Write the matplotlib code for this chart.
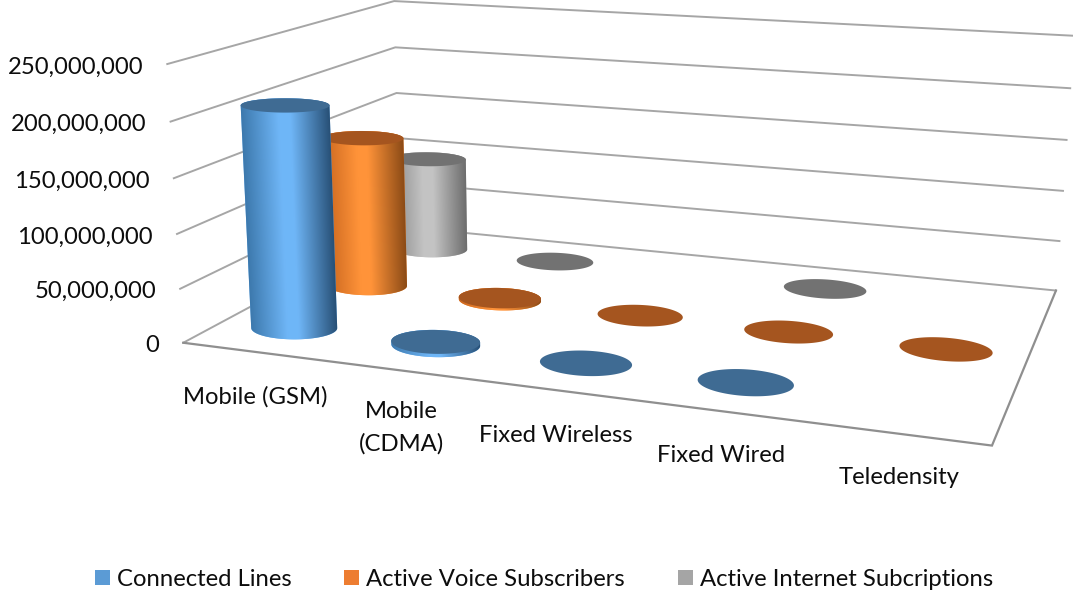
# -*- coding: utf-8 -*-
"""Excel-style 3D cylinder chart, subscribers by network type."""

import numpy as np
import matplotlib

matplotlib.use("Agg")
import matplotlib.pyplot as plt
from matplotlib.patches import Polygon, Rectangle

categories = ["Mobile (GSM)", "Mobile\n(CDMA)", "Fixed Wireless", "Fixed Wired", "Teledensity"]
series_names = ["Connected Lines", "Active Voice Subscribers", "Active Internet Subcriptions"]
connected_lines = [206e6, 3e6, 0, 0, np.nan]
active_voice = [148e6, 2e6, 0, 0, 0]
active_internet = [97e6, 0, np.nan, 0, np.nan]
y_ticks = [0, 50e6, 100e6, 150e6, 200e6, 250e6]

plt.rcParams["font.family"] = ["Lato", "DejaVu Sans"]
TEXT = "#0d0d0d"
FONT = 17.2

# (edge left, highlight, edge right, top face)
SHADES = [
    ("#3d79ad", "#6fb6f7", "#274f75", "#3f6b93"),
    ("#c9661f", "#ff9339", "#8a4a16", "#a5551f"),
    ("#8a8a8a", "#c4c4c4", "#6c6c6c", "#727272"),
]
LEGEND_COLORS = ["#5b9bd5", "#ed7d31", "#a5a5a5"]

# frame corners: (category, series, value in 50M) -> pixel, used to fit the camera
CALIB = [
    (0, 0, 0, 185, 342), (0, 0, 1, 181, 289), (0, 0, 2, 177, 234),
    (0, 0, 3, 173, 178), (0, 0, 4, 170, 122), (0, 0, 5, 166, 64),
    (0, 3, 0, 397, 227), (0, 3, 1, 398, 183), (0, 3, 2, 398, 138),
    (0, 3, 3, 398, 93), (0, 3, 4, 397, 47), (0, 3, 5, 394, 1),
    (5, 3, 0, 1056, 290), (5, 3, 1, 1060, 241), (5, 3, 2, 1063, 191),
    (5, 3, 3, 1067, 140), (5, 3, 4, 1070, 88), (5, 3, 5, 1073, 36),
    (5, 0, 0, 992, 446),
]


def fit_camera(points):
    rows, rhs = [], []
    for x, y, z, u, v in points:
        rows.append([x, y, z, 1, 0, 0, 0, 0, -u * x, -u * y, -u * z])
        rhs.append(u)
        rows.append([0, 0, 0, 0, x, y, z, 1, -v * x, -v * y, -v * z])
        rhs.append(v)
    sol = np.linalg.lstsq(np.array(rows, float), np.array(rhs, float), rcond=None)[0]
    return np.append(sol, 1.0).reshape(3, 4)


CAM = fit_camera(CALIB)


def project(x, y, value):
    x, y = np.broadcast_arrays(np.asarray(x, float), np.asarray(y, float))
    pts = np.stack([x, y, np.full(x.shape, value / 50e6), np.ones(x.shape)])
    q = CAM @ pts.reshape(4, -1)
    return (q[0] / q[2]).reshape(x.shape), (q[1] / q[2]).reshape(x.shape)


def hull(pts):
    pts = sorted(map(tuple, pts))

    def half(seq):
        out = []
        for p in seq:
            while len(out) > 1 and (out[-1][0] - out[-2][0]) * (p[1] - out[-2][1]) - (
                out[-1][1] - out[-2][1]
            ) * (p[0] - out[-2][0]) <= 0:
                out.pop()
            out.append(p)
        return out[:-1]

    return np.array(half(pts) + half(pts[::-1]))


def draw_cylinder(ax, cx, cy, value, shade, radius_x=0.285, radius_y=0.225):
    theta = np.linspace(0, 2 * np.pi, 181)
    rx = cx + radius_x * np.cos(theta)
    ry = cy + radius_y * np.sin(theta)
    bu, bv = project(rx, ry, 0)
    tu, tv = project(rx, ry, value)

    if value > 0:
        outline = hull(np.r_[np.c_[bu, bv], np.c_[tu, tv]])
        # horizontal gradient that follows the lean of the cylinder
        rows = np.arange(np.floor(tv.min()) - 1, np.ceil(bv.max()) + 1, 0.5)
        cols = np.arange(np.floor(min(bu.min(), tu.min())) - 1, np.ceil(max(bu.max(), tu.max())) + 1, 0.5)
        gx, gy = np.meshgrid(cols, rows)
        frac = (gy - tv[np.argmin(tu)]) / max(bv[np.argmin(bu)] - tv[np.argmin(tu)], 1)
        left = tu.min() + frac * (bu.min() - tu.min())
        right = tu.max() + frac * (bu.max() - tu.max())
        t = np.clip((gx - left) / (right - left), 0, 1)
        stops = np.array([matplotlib.colors.to_rgb(shade[k]) for k in (0, 1, 1, 2)])
        img = np.stack([np.interp(t, [0, 0.42, 0.55, 1], stops[:, c]) for c in range(3)], axis=-1)
        ax.add_patch(Polygon(outline, closed=True, fc=shade[1], ec="none", zorder=3))
        im = ax.imshow(img, extent=(cols[0], cols[-1], rows[-1], rows[0]), aspect="auto",
                       interpolation="bilinear", zorder=3)
        im.set_clip_path(Polygon(outline, closed=True, transform=ax.transData))
    ax.add_patch(Polygon(np.c_[tu, tv], closed=True, fc=shade[3], ec="none", zorder=3))


fig = plt.figure(figsize=(10.73, 5.97), dpi=100)
ax = fig.add_axes([0, 0, 1, 1])

# walls
for tick in y_ticks:
    us, vs = project([0, 0, 5], [0, 3, 3], tick)
    ax.plot(us, vs, color="#a6a6a6", lw=1.4, solid_joinstyle="miter", zorder=1)

# floor edges
us, vs = project([0, 5, 5], [0, 0, 3], 0)
ax.plot(us, vs, color="#8f8f8f", lw=1.6, solid_joinstyle="miter", zorder=1)

# y tick labels
for tick in y_ticks:
    u, v = project(0, 0, tick)
    ax.text(float(u) - 24, float(v) + 3, f"{tick:,.0f}", ha="right", va="center", fontsize=FONT, color=TEXT)

# cylinders, back row first
rows = [connected_lines, active_voice, active_internet]
for s in (2, 1, 0):
    for c, val in enumerate(rows[s]):
        if np.isnan(val):
            continue
        draw_cylinder(ax, c + 0.5, s + 0.5, val, SHADES[s])

# category labels
label_pos = [(255, 397), (401, 428), (556, 436), (721, 456), (899, 478)]
for name, (x, y) in zip(categories, label_pos):
    ax.text(x, y, name, ha="center", va="center", fontsize=FONT, color=TEXT, linespacing=1.6)

# legend
for name, col, x0 in zip(series_names, LEGEND_COLORS, (95, 344, 678)):
    ax.add_patch(Rectangle((x0, 570), 15, 15, fc=col, ec="none"))
    ax.text(x0 + 22, 579, name, ha="left", va="center", fontsize=FONT, color=TEXT)

ax.set_xlim(0, 1073)
ax.set_ylim(597, 0)
ax.axis("off")
fig.savefig("out.png", dpi=100, facecolor="white")
plt.close(fig)
